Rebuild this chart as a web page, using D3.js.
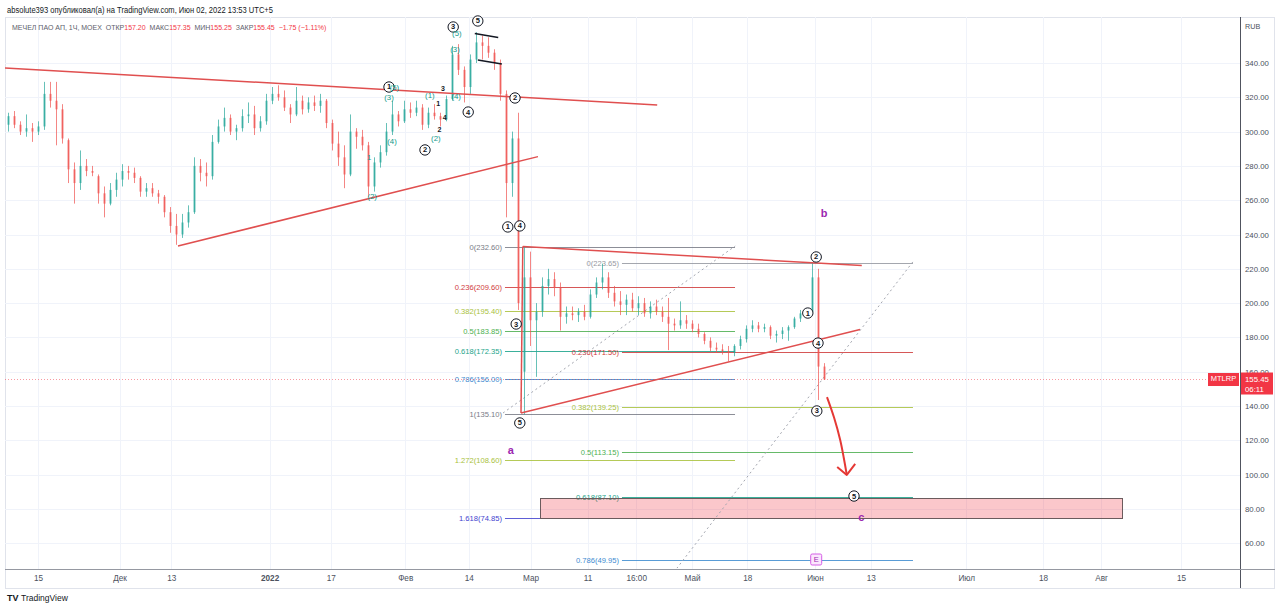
<!DOCTYPE html>
<html><head><meta charset="utf-8">
<script src="https://cdn.jsdelivr.net/npm/d3@7"></script>
<style>body{margin:0;background:#fff;} svg{display:block;font-family:"Liberation Sans",Arial,sans-serif;}</style>
</head><body><svg id="c" width="1280" height="609"></svg>
<script>
// ---- data (one candle ≈ a group of hourly bars) ----
const open  = [304,309,304,300,302,300,303,322,318,313,295,278,270,280,277,274,264,258,266,272,277,276,273,265,267,264,262,253,245,240,247,253,280,276,274,294,303,308,300,302,309,310,302,306,318,322,320,314,310,318,313,317,315,318,305,293,285,275,300,297,292,268,282,288,300,310,306,313,311,314,304,311,309,307,319,345,336,326,342,352,350,346,340,322,270,296,160,215,190,195,210,214,209,192,194,193,195,192,205,212,215,206,201,199,202,197,200,194,198,195,192,188,187,190,188,185,182,178,174,173,172,171,175,179,185,187,185,186,181,182,184,186,191,194,195,215,163];
const high  = [311,312,306,310,305,306,329,329,329,316,296,282,289,284,280,275,268,270,276,281,280,279,274,270,270,266,263,256,252,252,257,285,284,282,298,307,314,310,304,313,317,315,309,322,326,327,324,316,326,321,320,321,322,319,307,300,292,310,302,301,294,285,292,305,318,312,318,317,318,316,314,316,311,321,350,351,338,345,358,356,355,348,342,324,300,311,232.6,230,200,215,220,218,212,198,198,197,199,208,215,223,218,210,207,205,206,204,203,201,202,198,203,191,201,193,190,188,183,180,177,176,175,176,181,187,190,189,188,187,184,186,187,192,196,197,223.65,220,165];
const low   = [300,302,298,297,294,298,301,314,292,293,270,258,266,274,274,258,250,257,262,268,272,270,262,262,262,258,250,241,234,238,244,252,271,268,272,293,300,298,295,300,305,298,300,304,316,318,312,305,309,310,311,312,311,302,289,280,267,274,290,289,262,265,279,286,298,303,305,308,309,301,302,307,303,306,318,333,317,322,340,342,343,336,318,250,262,196,135.1,175,157,192,205,204,184,188,190,189,190,191,203,208,203,198,193,193,195,193,192,191,193,189,172.6,184,185,185,183,180,176,172,171,170,166,169,173,177,183,183,183,179,177,179,178,185,189,192,194,143.5,155.25];
const close = [309,304,300,302,300,303,322,318,313,296,278,270,280,277,276,264,258,266,272,277,276,273,265,267,264,262,253,245,240,247,253,280,276,274,294,303,308,300,302,309,310,302,306,318,322,320,314,310,318,313,317,315,318,305,293,285,275,300,297,292,268,282,288,300,310,306,313,311,314,304,311,309,307,319,345,336,326,342,352,350,346,340,322,270,296,200,215,190,195,210,214,209,192,194,193,195,192,205,212,215,206,201,199,202,197,200,194,198,195,192,188,187,190,188,185,182,178,174,173,172,171,175,179,185,187,185,186,181,182,184,186,191,194,195,215,163,155.45];

const timeTickIdx    = [5,18.6,27.2,43.6,53.8,66.2,76.8,87.1,96.6,104.7,114,123.2,134.5,143.8,159.7,172.5,182.2,195.5];
const timeTickLabels = ["15","Дек","13","2022","17","Фев","14","Мар","11","16:00","Май","18","Июн","13","Июл","18","Авг","15"];
const priceTicks = [60,80,100,120,140,160,180,200,220,240,260,280,300,320,340];

const lastPrice = 155.45;
const fibRatiosA = ["0","0.236","0.382","0.5","0.618","0.786","1","1.272","1.618"];
const fibPricesA = [232.60,209.60,195.40,183.85,172.35,156.00,135.10,108.60,74.85];
const fibColorsA = ["#787b86","#d03a3a","#a9c13c","#4caf50","#1aa38a","#3d8bd0","#787b86","#a9c13c","#4343cf"];
const fibEndA = [121.17,121.17,121.17,121.17,121.17,121.17,121.17,121.17,88.67];
const fibStartA = 82.83;
const fibRatiosB = ["0","0.236","0.382","0.5","0.618","0.786"];
const fibPricesB = [223.65,171.50,139.25,113.15,87.10,49.95];
const fibColorsB = ["#9598a1","#d03a3a","#a9c13c","#4caf50","#1aa38a","#3d8bd0"];
const fibEndB = [150.83,150.83,150.83,150.83,150.83,150.83];
const fibStartB = 102.33;

const redLines = [[-0.5,337.1,108.2,315.5],[28.33,233.3,88.33,285.4],[85.8,233.0,142.3,221.9],[85.5,135.9,142.0,184.6],[85.8,233.0,85.5,135.9]];
const blackLines = [[77.8,357.2,81.7,354.9],[78.3,341.7,82.3,339.4]];
const dottedLines = [[82.5,135.9,121.2,233.3],[150.8,224.0,111.5,45.5]];
const arrowPts = [[136.5,145.2],[137.7,133],[138.7,120.2],[139.3,109.7],[139.8,99.8]];
const arrowHead = [[138.2,104.4],[139.8,99.8],[141.2,106.2]];
const targetBox = [88.67,86.4,185.67,74.85];

const circled = [[74.2,361.0,"3"],[78.3,364.5,"5"],[63.5,326.0,"1"],[69.5,289.3,"2"],[76.7,311.4,"4"],[84.5,319.6,"2"],[83.3,244.4,"1"],[85.3,245.0,"4"],[84.7,187.8,"3"],[85.3,130.1,"5"],[134.7,226.9,"2"],[133.3,194.2,"1"],[135.0,176.7,"4"],[134.8,137.1,"3"],[141.0,87.5,"5"]];
const tealLabels = [[74.8,356.9,"(5)"],[74.5,347.6,"(3)"],[64.4,325.4,"(5)"],[63.5,319.6,"(3)"],[64.0,293.9,"(4)"],[60.2,284.6,"1"],[60.7,261.9,"(2)"],[70.3,320.8,"(1)"],[71.3,295.8,"(2)"],[74.7,320.2,"(4)"]];
const blackSmall = [[72.5,324.8,"3"],[71.7,316.1,"1"],[72.8,307.9,"4"],[71.9,300.9,"2"]];
const letters = [[136.0,252.0,"b"],[83.8,113.8,"a"],[142.2,74.7,"c"]];
const eBox = [134.7,50.2,"E"];

// ---- layout ----
const svg = d3.select("#c");
const X0=5, X1=1240, Y0=17, Y1=569;
const x = d3.scaleLinear().domain([0,205]).range([8,1238]);
const y = d3.scaleLinear().domain([60,340]).range([543.2,63]);

// header
svg.append("text").attr("x",7).attr("y",13).attr("font-size",8.3).attr("fill","#131722")
  .attr("textLength",266).attr("lengthAdjust","spacingAndGlyphs")
  .text("absolute393 опубликовал(а) на TradingView.com, Июн 02, 2022 13:53 UTC+5");
svg.append("rect").attr("x",5.5).attr("y",17.5).attr("width",1269).attr("height",571).attr("fill","none").attr("stroke","#e0e3eb");

const defs = svg.append("defs");
defs.append("clipPath").attr("id","clip").append("rect").attr("x",X0).attr("y",Y0).attr("width",X1-X0).attr("height",Y1-Y0);

// grid
const grid = svg.append("g");
grid.selectAll(".hg").data(priceTicks).join("line").attr("x1",X0).attr("x2",X1)
  .attr("y1",d=>Math.round(y(d))+0.5).attr("y2",d=>Math.round(y(d))+0.5).attr("stroke","#f0f3fa");
grid.selectAll(".vg").data(timeTickIdx).join("line").attr("y1",Y0).attr("y2",Y1)
  .attr("x1",d=>Math.round(x(d))+0.5).attr("x2",d=>Math.round(x(d))+0.5).attr("stroke","#f0f3fa");

// symbol line
const sym = svg.append("text").attr("x",12).attr("y",30).attr("font-size",7.0).attr("fill","#5d606b")
  .attr("xml:space","preserve").style("white-space","pre");
[["МЕЧЕЛ ПАО АП, 1Ч, MOEX  ОТКР","#5d606b"],["157.20","#f23645"],["  МАКС","#5d606b"],["157.35","#f23645"],["  МИН","#5d606b"],["155.25","#f23645"],["  ЗАКР","#5d606b"],["155.45","#f23645"],["  −1.75 (−1.11%)","#f23645"]]
 .forEach(s=>sym.append("tspan").attr("fill",s[1]).text(s[0]));

const plot = svg.append("g").attr("clip-path","url(#clip)");

// fib levels
function fib(ratios, prices, colors, start, ends){
  const g = plot.append("g");
  prices.forEach((p,i)=>{
    const yy = Math.round(y(p))+0.5;
    g.append("line").attr("x1",x(start)).attr("x2",x(ends[i])).attr("y1",yy).attr("y2",yy)
      .attr("stroke",colors[i]).attr("stroke-width",1).attr("opacity",0.85);
    g.append("text").attr("x",x(start)-3).attr("y",yy).attr("text-anchor","end").attr("dominant-baseline","middle")
      .attr("font-size",7.6).attr("fill",colors[i]).text(ratios[i]+"("+p.toFixed(2)+")");
  });
}
fib(fibRatiosA,fibPricesA,fibColorsA,fibStartA,fibEndA);
fib(fibRatiosB,fibPricesB,fibColorsB,fibStartB,fibEndB);

// target box
plot.append("rect").attr("x",Math.round(x(targetBox[0]))+0.5).attr("y",Math.round(y(targetBox[1]))+0.5)
  .attr("width",Math.round(x(targetBox[2])-x(targetBox[0])))
  .attr("height",Math.round(y(targetBox[3])-y(targetBox[1]))).attr("fill","rgba(242,54,69,0.28)").attr("stroke","#6b5b5d").attr("stroke-width",1);

// dotted lines
plot.selectAll(".dl").data(dottedLines).join("line").attr("x1",d=>x(d[0])).attr("y1",d=>y(d[1])).attr("x2",d=>x(d[2])).attr("y2",d=>y(d[3]))
  .attr("stroke","#a3a6af").attr("stroke-width",1).attr("stroke-dasharray","2,3");

// price line
plot.append("line").attr("x1",X0).attr("x2",X1).attr("y1",y(lastPrice)).attr("y2",y(lastPrice))
  .attr("stroke","#f23645").attr("stroke-opacity",0.5).attr("stroke-dasharray","1,2");

// candles
const cg = plot.append("g");
const bw = 2;
close.forEach((c,i)=>{
  const o=open[i], col = c>=o ? "#26a69a" : "#ef5350";
  const cx = Math.round(x(i));
  cg.append("line").attr("x1",cx+0.5).attr("x2",cx+0.5).attr("y1",y(high[i])).attr("y2",y(low[i])).attr("stroke",col).attr("stroke-opacity",0.7);
  const top = y(Math.max(o,c)), bot = y(Math.min(o,c));
  cg.append("rect").attr("x",cx-0.5).attr("y",top).attr("width",bw).attr("height",Math.max(1,bot-top)).attr("fill",col).attr("fill-opacity",0.7);
});

// trend lines
plot.selectAll(".rl").data(redLines).join("line").attr("x1",d=>x(d[0])).attr("y1",d=>y(d[1])).attr("x2",d=>x(d[2])).attr("y2",d=>y(d[3]))
  .attr("stroke","#e04f4f").attr("stroke-width",1.5);
plot.selectAll(".bl").data(blackLines).join("line").attr("x1",d=>x(d[0])).attr("y1",d=>y(d[1])).attr("x2",d=>x(d[2])).attr("y2",d=>y(d[3]))
  .attr("stroke","#131722").attr("stroke-width",1.5);

// arrow
plot.append("path").attr("d",d3.line().x(d=>x(d[0])).y(d=>y(d[1])).curve(d3.curveCatmullRom)(arrowPts)).attr("fill","none").attr("stroke","#e53935").attr("stroke-width",2);
plot.append("path").attr("d",d3.line().x(d=>x(d[0])).y(d=>y(d[1]))(arrowHead)).attr("fill","none").attr("stroke","#e53935").attr("stroke-width",2).attr("stroke-linejoin","round");

// wave labels
const wl = svg.append("g");
circled.forEach(d=>{
  wl.append("circle").attr("cx",x(d[0])).attr("cy",y(d[1])).attr("r",5.2).attr("fill","#fff").attr("stroke","#131722").attr("stroke-width",1);
  wl.append("text").attr("x",x(d[0])).attr("y",y(d[1])+0.5).attr("text-anchor","middle").attr("dominant-baseline","middle")
    .attr("font-size",7.5).attr("font-weight","bold").attr("fill","#131722").text(d[2]);
});
tealLabels.forEach(d=>wl.append("text").attr("x",x(d[0])).attr("y",y(d[1])).attr("text-anchor","middle").attr("dominant-baseline","middle")
  .attr("font-size",7.8).attr("fill","#129a8a").text(d[2]));
blackSmall.forEach(d=>wl.append("text").attr("x",x(d[0])).attr("y",y(d[1])).attr("text-anchor","middle").attr("dominant-baseline","middle")
  .attr("font-size",7).attr("font-weight","bold").attr("fill","#131722").text(d[2]));
letters.forEach(d=>wl.append("text").attr("x",x(d[0])).attr("y",y(d[1])).attr("text-anchor","middle").attr("dominant-baseline","middle")
  .attr("font-size",11).attr("font-weight","bold").attr("fill","#9c27b0").text(d[2]));
wl.append("rect").attr("x",x(eBox[0])-5.5).attr("y",y(eBox[1])-6).attr("width",11).attr("height",11).attr("rx",1.5)
  .attr("fill","#fbe7fd").attr("stroke","#d55ee6").attr("stroke-width",1);
wl.append("text").attr("x",x(eBox[0])).attr("y",y(eBox[1])).attr("text-anchor","middle").attr("dominant-baseline","middle")
  .attr("font-size",7.5).attr("fill","#9c27b0").text(eBox[2]);

// axes
svg.append("line").attr("x1",X1+0.5).attr("x2",X1+0.5).attr("y1",Y0).attr("y2",588).attr("stroke","#50535e");
svg.append("line").attr("x1",X0).attr("x2",1275).attr("y1",Y1+0.5).attr("y2",Y1+0.5).attr("stroke","#9598a1");
const yAxis = d3.axisRight(y).tickValues(priceTicks).tickFormat(d3.format(".2f")).tickSize(0).tickPadding(5);
const ya = svg.append("g").attr("transform",`translate(${X1},0)`).call(yAxis);
ya.select(".domain").remove();
ya.selectAll("text").attr("font-size",7.8).attr("fill","#4c525e").attr("font-family","Liberation Sans, Arial, sans-serif");
svg.append("text").attr("x",1245).attr("y",27).attr("dominant-baseline","middle").attr("font-size",7.2).attr("fill","#4c525e").text("RUB");
const xAxis = d3.axisBottom(x).tickValues(timeTickIdx).tickFormat((d,i)=>timeTickLabels[i]).tickSize(0).tickPadding(6);
const xa = svg.append("g").attr("transform",`translate(0,${Y1})`).call(xAxis);
xa.select(".domain").remove();
xa.selectAll("text").attr("font-size",8.2).attr("fill","#4c525e").attr("font-family","Liberation Sans, Arial, sans-serif")
  .attr("font-weight",(d,i)=>timeTickLabels[i]==="2022"?"bold":"normal");

// price tags
const py = y(lastPrice);
svg.append("rect").attr("x",1208).attr("y",py-6.5).attr("width",31).attr("height",13).attr("fill","#f23645");
svg.append("text").attr("x",1223.5).attr("y",py).attr("text-anchor","middle").attr("dominant-baseline","middle").attr("font-size",7.5).attr("fill","#fff").text("MTLRP");
svg.append("rect").attr("x",X1+1).attr("y",py-7).attr("width",32).attr("height",22).attr("fill","#f23645");
svg.append("text").attr("x",1245).attr("y",py).attr("dominant-baseline","middle").attr("font-size",7.8).attr("fill","#fff").text(lastPrice.toFixed(2));
svg.append("text").attr("x",1245).attr("y",py+10).attr("dominant-baseline","middle").attr("font-size",7.8).attr("fill","#fff").text("06:11");

// footer
svg.append("text").attr("x",7).attr("y",601).attr("font-size",9).attr("font-weight","bold").attr("fill","#131722").text("TV");
svg.append("text").attr("x",21).attr("y",601).attr("font-size",8.5).attr("fill","#131722").text("TradingView");
</script></body></html>
